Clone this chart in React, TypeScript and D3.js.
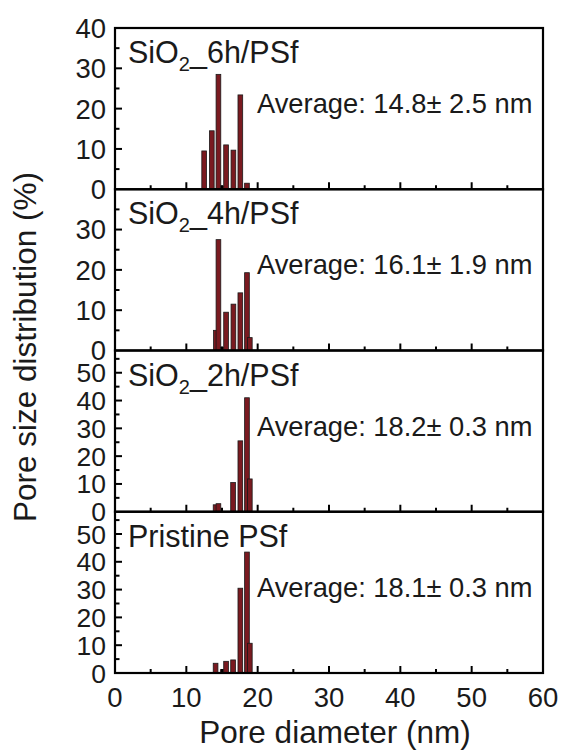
import React from "react";
import * as d3 from "d3";

const panelNames = ["6h", "4h", "2h", "pristine"];
const panelLabelMain = ["SiO", "SiO", "SiO", "Pristine PSf"];
const panelLabelSub = ["2", "2", "2", ""];
const panelLabelTail = ["_6h/PSf", "_4h/PSf", "_2h/PSf", ""];
const averageTexts = [
  "Average: 14.8\u00b1 2.5 nm",
  "Average: 16.1\u00b1 1.9 nm",
  "Average: 18.2\u00b1 0.3 nm",
  "Average: 18.1\u00b1 0.3 nm",
];
const yMaxes = [40, 40, 58, 58];
const yTickLabels = [
  [0, 10, 20, 30, 40],
  [0, 10, 20, 30],
  [0, 10, 20, 30, 40, 50],
  [0, 10, 20, 30, 40, 50],
];
const xTickLabels = [0, 10, 20, 30, 40, 50, 60];

const diam6h = [12.5, 13.57, 14.5, 15.1, 15.57, 16.6, 17.57, 18.5];
const dist6h = [9.5, 14.5, 28.5, 0.8, 11, 9.7, 23.4, 1.5];
const diam4h = [14.15, 14.5, 15.1, 15.57, 16.6, 17.57, 18.5, 18.9];
const dist4h = [5.0, 27.5, 0.8, 9.5, 11.5, 14.3, 19.3, 3.2];
const diam2h = [14.1, 14.5, 16.55, 17.57, 18.5, 18.9];
const dist2h = [2.5, 2.9, 10.5, 25.5, 41, 11.8];
const diamPristine = [14.1, 15.1, 15.57, 16.55, 17.57, 18.5, 18.9];
const distPristine = [3.5, 1.2, 4.2, 4.7, 30.5, 43.5, 10.7];

const diams = [diam6h, diam4h, diam2h, diamPristine];
const dists = [dist6h, dist4h, dist2h, distPristine];

const W = 562;
const H = 751;
const left = 115;
const right = 543;
const top = 28;
const bottom = 673;
const FONT = "'Liberation Sans', Arial, Helvetica, sans-serif";

export default function App() {
  const x = d3.scaleLinear().domain([0, 60]).range([left, right]);
  const ph = (bottom - top) / 4;
  const barW = 4.7;
  const xMajor = d3.range(0, 61, 10);
  const xMinor = d3.range(5, 60, 10);

  return (
    <svg
      width={W}
      height={H}
      style={{ position: "absolute", left: 0, top: 0, background: "#fff" }}
      fontFamily={FONT}
    >
      {panelNames.map((name, i) => {
        const pTop = top + i * ph;
        const pBot = pTop + ph;
        const y = d3.scaleLinear().domain([0, yMaxes[i]]).range([pBot, pTop]);
        const yMinor = d3.range(5, yMaxes[i], 10);
        const yMajor = d3.range(10, yMaxes[i], 10);
        return (
          <g key={name}>
            {diams[i].map((dv, j) => (
              <rect
                key={j}
                x={x(dv) - barW / 2}
                y={y(dists[i][j])}
                width={barW}
                height={y(0) - y(dists[i][j])}
                fill="#7a1a20"
                stroke="#1a1a1a"
                strokeWidth={0.8}
              />
            ))}
            {yMajor.map((t) => (
              <line key={"ym" + t} x1={left} x2={left + 7} y1={y(t)} y2={y(t)} stroke="#000" strokeWidth={2} />
            ))}
            {yMinor.map((t) => (
              <line key={"yn" + t} x1={left} x2={left + 4.5} y1={y(t)} y2={y(t)} stroke="#000" strokeWidth={2} />
            ))}
            {xMajor.slice(1, -1).map((t) => (
              <line key={"xm" + t} x1={x(t)} x2={x(t)} y1={pBot} y2={pBot - 7} stroke="#000" strokeWidth={2} />
            ))}
            {xMinor.map((t) => (
              <line key={"xn" + t} x1={x(t)} x2={x(t)} y1={pBot} y2={pBot - 4} stroke="#000" strokeWidth={2} />
            ))}
            {yTickLabels[i].map((t) => (
              <text key={"yl" + t} x={left - 9} y={y(t)} dy="0.36em" textAnchor="end" fontSize={i >= 2 ? 26.5 : 27.5} fill="#1a1a1a">
                {t}
              </text>
            ))}
            <text x={128} y={pTop + 35} fontSize={30.5} fill="#1a1a1a">
              {panelLabelMain[i]}
              {panelLabelSub[i] && (
                <tspan fontSize={20} dy={8}>
                  {panelLabelSub[i]}
                </tspan>
              )}
              {panelLabelTail[i] && <tspan dy={-8}>{panelLabelTail[i]}</tspan>}
            </text>
            <text x={257} y={pTop + 85} fontSize={27.3} fill="#1a1a1a">
              {averageTexts[i]}
            </text>
            <rect x={left} y={pTop} width={right - left} height={ph} fill="none" stroke="#000" strokeWidth={2.2} />
          </g>
        );
      })}
      {xTickLabels.map((t) => (
        <text key={"xl" + t} x={x(t)} y={707} textAnchor="middle" fontSize={27.5} fill="#1a1a1a">
          {t}
        </text>
      ))}
      <text x={335} y={743} textAnchor="middle" fontSize={31.5} fill="#1a1a1a">
        Pore diameter (nm)
      </text>
      <text
        transform={`translate(36, 347) rotate(-90)`}
        textAnchor="middle"
        fontSize={31.5}
        fill="#1a1a1a"
      >
        Pore size distribution (%)
      </text>
    </svg>
  );
}
